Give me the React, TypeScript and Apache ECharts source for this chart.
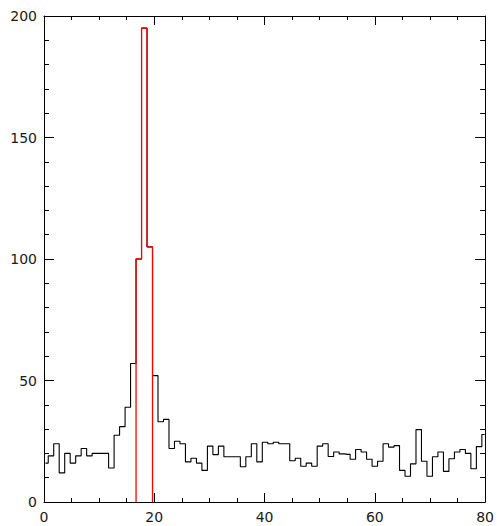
import React, { useEffect, useRef } from "react";
import * as echarts from "echarts";

// Histogram counts, one per bin (bin index 0..80)
const counts = [
  16, 19, 24, 12, 20, 16, 19, 22, 19, 20,
  20, 20, 14, 27.5, 31, 39, 57, 100, 195, 105,
  52, 33, 34, 22, 25, 24, 16.5, 18, 16, 13,
  23, 19.5, 23, 18.6, 18.6, 18.6, 14.5, 18.6, 24, 16.5,
  24.6, 24, 24.6, 24, 24, 17, 18, 14.7, 16, 14.7,
  23, 24, 18.7, 20.6, 19.8, 19.6, 17.6, 21.6, 20.6, 17.6,
  14.7, 16.8, 24, 22.6, 23.2, 13, 10.6, 15.7, 29.8, 16.8,
  10.6, 18.6, 20.6, 12.6, 17.8, 20.6, 21.6, 20, 13.7, 22.8,
  27.8,
];

// Highlighted peak bins (red)
const peakStart = 17;
const peakCounts = [100, 195, 105];

// Axis ranges / ticks
const xMin = 0;
const xMax = 80;
const xInterval = 20;
const yMin = 0;
const yMax = 200;
const yInterval = 50;
// range of the bin-index axis that maps bins onto the x scale
const binAxisMin = -0.27;
const binAxisMax = 80.09;

const FONT = "DejaVu Sans";
const TEXT = "#1a1a1a";

export default function App() {
  const ref = useRef<HTMLDivElement>(null);

  useEffect(() => {
    if (!ref.current) return;
    const chart = echarts.init(ref.current, undefined, { renderer: "svg" });

    const blackData = counts.map((v, i) => [i, v]);
    const redData: number[][] = [];
    redData.push([peakStart - 0.5, 0]);
    peakCounts.forEach((v, k) => {
      redData.push([peakStart + k - 0.5, v]);
      redData.push([peakStart + k + 0.5, v]);
    });
    redData.push([peakStart + peakCounts.length - 0.5, 0]);

    const lineColor = "#000";

    const baseX = {
      type: "value" as const,
      min: xMin,
      max: xMax,
      interval: xInterval,
      axisLine: { show: true, onZero: false, lineStyle: { color: lineColor, width: 1 } },
      axisTick: { show: true, inside: true, length: 9, lineStyle: { color: lineColor, width: 1 } },
      minorTick: { show: true, splitNumber: 4, length: 4, lineStyle: { color: lineColor, width: 1 } },
      splitLine: { show: false },
      minorSplitLine: { show: false },
    };
    const baseY = {
      type: "value" as const,
      min: yMin,
      max: yMax,
      interval: yInterval,
      axisLine: { show: true, onZero: false, lineStyle: { color: lineColor, width: 1 } },
      axisTick: { show: true, inside: true, length: 10, lineStyle: { color: lineColor, width: 1 } },
      minorTick: { show: true, splitNumber: 5, length: 5, lineStyle: { color: lineColor, width: 1 } },
      splitLine: { show: false },
      minorSplitLine: { show: false },
    };

    chart.setOption({
      animation: false,
      backgroundColor: "#fff",
      grid: { left: 44, right: 10, top: 16, bottom: 24, containLabel: false },
      xAxis: [
        {
          ...baseX,
          position: "bottom",
          axisLabel: { show: true, margin: 8, fontSize: 14, fontFamily: FONT, color: TEXT },
        },
        {
          ...baseX,
          position: "top",
          axisLabel: { show: false },
        },
        {
          type: "value",
          min: binAxisMin,
          max: binAxisMax,
          show: false,
          splitLine: { show: false },
        },
      ],
      yAxis: [
        {
          ...baseY,
          position: "left",
          axisLabel: { show: true, margin: 7, fontSize: 14, fontFamily: FONT, color: TEXT },
        },
        {
          ...baseY,
          position: "right",
          axisLabel: { show: false },
        },
      ],
      series: [
        {
          type: "line",
          xAxisIndex: 2,
          yAxisIndex: 0,
          data: blackData,
          step: "middle",
          symbol: "none",
          lineStyle: { color: "#000", width: 1.1 },
          z: 2,
        },
        {
          type: "line",
          xAxisIndex: 2,
          yAxisIndex: 0,
          data: redData,
          symbol: "none",
          lineStyle: { color: "#ff0000", width: 1.3 },
          z: 3,
        },
      ],
    });

    return () => chart.dispose();
  }, []);

  return (
    <div
      ref={ref}
      style={{ position: "fixed", left: 0, top: 0, width: 497, height: 526, background: "#fff" }}
    />
  );
}
